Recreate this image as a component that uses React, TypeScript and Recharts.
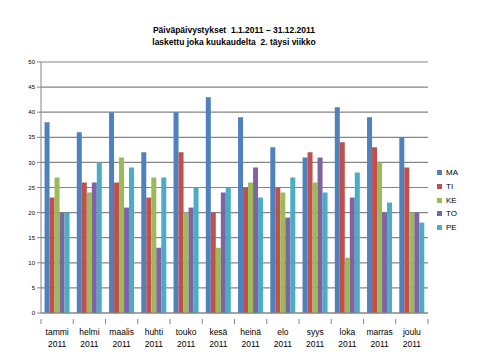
import React from "react";
import { BarChart, Bar, XAxis, YAxis, CartesianGrid } from "recharts";

const months = ["tammi", "helmi", "maalis", "huhti", "touko", "kesä", "heinä", "elo", "syys", "loka", "marras", "joulu"];
const yearLabel = "2011";
const MA = [38, 36, 40, 32, 40, 43, 39, 33, 31, 41, 39, 35];
const TI = [23, 26, 26, 23, 32, 20, 25, 25, 32, 34, 33, 29];
const KE = [27, 24, 31, 27, 20, 13, 26, 24, 26, 11, 30, 20];
const TO = [20, 26, 21, 13, 21, 24, 29, 19, 31, 23, 20, 20];
const PE = [20, 30, 29, 27, 25, 25, 23, 27, 24, 28, 22, 18];
const yTicks = [0, 5, 10, 15, 20, 25, 30, 35, 40, 45, 50];
const titleLines = ["Päiväpäivystykset  1.1.2011 – 31.12.2011", "laskettu joka kuukaudelta  2. täysi viikko"];

const series = [
  { key: "MA", color: "#4F81BD" },
  { key: "TI", color: "#C0504D" },
  { key: "KE", color: "#9BBB59" },
  { key: "TO", color: "#8064A2" },
  { key: "PE", color: "#4BACC6" },
];

const data = months.map((m, i) => ({
  name: m,
  MA: MA[i],
  TI: TI[i],
  KE: KE[i],
  TO: TO[i],
  PE: PE[i],
}));

const W = 480;
const H = 360;
const M = { top: 62, right: 52, left: 0, bottom: 0 };
const YW = 41;
const XH = 47;
const plotW = W - M.right - M.left - YW;
const band = plotW / months.length;
const FONT = "'Liberation Sans', Arial, sans-serif";
const GRID = "#868686";

const XTick = (props: any) => {
  const { x, y, payload, index } = props;
  const half = band / 2;
  return (
    <g>
      <line x1={x - half} x2={x - half} y1={y - 2} y2={y + 3} stroke={GRID} />
      {index === months.length - 1 && (
        <line x1={x + half} x2={x + half} y1={y - 2} y2={y + 3} stroke={GRID} />
      )}
      <text x={x} y={y + 14} textAnchor="middle" fontSize={8.5} fontFamily={FONT} fill="#000">
        {payload.value}
      </text>
      <text x={x} y={y + 26} textAnchor="middle" fontSize={8.5} fontFamily={FONT} fill="#000">
        {yearLabel}
      </text>
    </g>
  );
};

export default function App() {
  return (
    <div style={{ position: "absolute", left: 0, top: 0, width: W, height: H, background: "#fff" }}>
      <div
        style={{
          position: "absolute",
          left: 0,
          top: 24,
          width: 468,
          textAlign: "center",
          fontFamily: FONT,
          fontWeight: "bold",
          fontSize: 8.5,
          lineHeight: "12px",
          color: "#000",
          whiteSpace: "pre",
        }}
      >
        <div>{titleLines[0]}</div>
        <div>{titleLines[1]}</div>
      </div>
      <BarChart
        width={W}
        height={H}
        data={data}
        margin={M}
        barCategoryGap="11%"
        barGap={0}
      >
        <CartesianGrid vertical={false} stroke={GRID} strokeWidth={1.2} />
        <XAxis
          dataKey="name"
          height={XH}
          interval={0}
          tickLine={false}
          axisLine={{ stroke: GRID }}
          tick={<XTick />}
        />
        <YAxis
          width={YW}
          domain={[0, 50]}
          ticks={yTicks}
          interval={0}
          tickSize={4}
          tickLine={{ stroke: GRID }}
          axisLine={{ stroke: GRID }}
          tick={{ fontSize: 6, fill: "#000", fontFamily: FONT }}
        />
        {series.map((s) => (
          <Bar key={s.key} dataKey={s.key} fill={s.color} isAnimationActive={false} />
        ))}
      </BarChart>
      <div style={{ position: "absolute", left: 437, top: 166, fontFamily: FONT, fontSize: 8, color: "#000" }}>
        {series.map((s) => (
          <div key={s.key} style={{ display: "flex", alignItems: "center", height: 13.7 }}>
            <span style={{ display: "inline-block", width: 5, height: 5, background: s.color, marginRight: 4 }} />
            <span>{s.key}</span>
          </div>
        ))}
      </div>
    </div>
  );
}
